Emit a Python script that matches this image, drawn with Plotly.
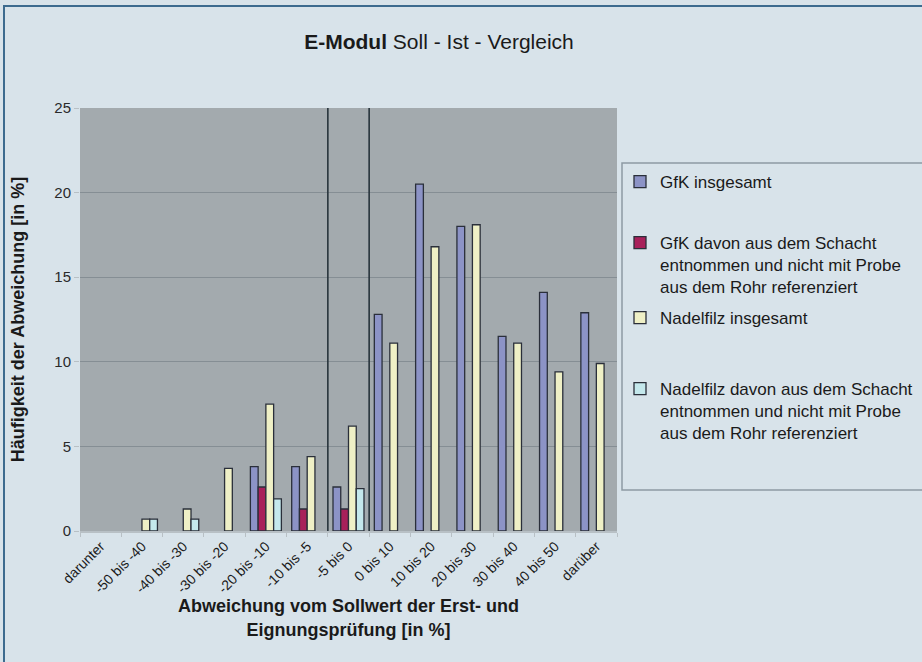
import plotly.graph_objects as go

categories = ["darunter", "-50 bis -40", "-40 bis -30", "-30 bis -20", "-20 bis -10",
              "-10 bis -5", "-5 bis 0", "0 bis 10", "10 bis 20", "20 bis 30",
              "30 bis 40", "40 bis 50", "darüber"]
gfk_gesamt = [None, None, None, None, 3.8, 3.8, 2.6, 12.8, 20.5, 18.0, 11.5, 14.1, 12.9]
gfk_schacht = [None, None, None, None, 2.6, 1.3, 1.3, None, None, None, None, None, None]
nadel_gesamt = [None, 0.7, 1.3, 3.7, 7.5, 4.4, 6.2, 11.1, 16.8, 18.1, 11.1, 9.4, 9.9]
nadel_schacht = [None, 0.7, 0.7, None, 1.9, None, 2.5, None, None, None, None, None, None]

series_names = [
    "GfK insgesamt",
    "GfK davon aus dem Schacht<br>entnommen und nicht mit Probe<br>aus dem Rohr referenziert",
    "Nadelfilz insgesamt",
    "Nadelfilz davon aus dem Schacht<br>entnommen und nicht mit Probe<br>aus dem Rohr referenziert",
]
series_values = [gfk_gesamt, gfk_schacht, nadel_gesamt, nadel_schacht]
series_colors = ["#8c93c6", "#a8205a", "#eff0c6", "#c4e8ec"]
legend_ids = ["legend", "legend2", "legend3", "legend4"]

W, H = 922, 662
L, R, T, B = 80, 305, 108, 131
PW, PH = W - L - R, H - T - B

def px(x):
    return (x - L) / PW

def py(y):
    return (H - B - y) / PH

FONT = "Liberation Sans, Arial, sans-serif"
PAPER = "#d8e3ea"

fig = go.Figure()
for name, vals, col, lg in zip(series_names, series_values, series_colors, legend_ids):
    fig.add_trace(go.Bar(
        x=categories, y=vals, name=name, legend=lg, showlegend=True,
        marker=dict(color=col, line=dict(color="#2a2f3a", width=1.3)),
    ))

legend_tops = [164, 225, 300, 371]
legend_common = dict(
    bgcolor="rgba(0,0,0,0)", borderwidth=0, valign="top",
    font=dict(family=FONT, size=17, color="#1a1a1a"),
    xanchor="left", yanchor="top", visible=True,
)
layout_legends = {}
for lg, top in zip(legend_ids, legend_tops):
    layout_legends[lg] = dict(x=px(620), y=py(top), **legend_common)

fig.update_layout(
    width=W, height=H,
    showlegend=True,
    margin=dict(l=L, r=R, t=T, b=B, autoexpand=False),
    paper_bgcolor=PAPER,
    plot_bgcolor="#a3aaae",
    font=dict(family=FONT, color="#1a1a1a"),
    barmode="group", bargap=0.25, bargroupgap=0,
    title=dict(
        text="<b>E-Modul</b> Soll - Ist - Vergleich",
        font=dict(family=FONT, size=21, color="#1a1a1a"),
        xref="container", yref="container", x=439 / W, y=1 - 42 / H,
        xanchor="center", yanchor="middle",
    ),
    xaxis=dict(
        type="category", tickangle=-45, tickson="boundaries",
        ticks="outside", ticklen=4, tickcolor="#b8c0c5",
        showline=True, linecolor="#b8c0c5", linewidth=1.5,
        tickfont=dict(family=FONT, size=14, color="#1a1a1a"),
        title=dict(text="<b>Abweichung vom Sollwert der Erst- und<br>Eignungsprüfung [in %]</b>",
                   font=dict(family=FONT, size=18, color="#1a1a1a"), standoff=0),
        showgrid=False, automargin=False,
    ),
    yaxis=dict(
        range=[0, 25], tickvals=[0, 5, 10, 15, 20, 25],
        ticks="outside", ticklen=5, tickcolor="#b8c0c5",
        showgrid=True, gridcolor="#858e94", gridwidth=1.2,
        zeroline=False, showline=False,
        tickfont=dict(family=FONT, size=15, color="#2a2a2a"),
        title=dict(text="<b>Häufigkeit der Abweichung [in %]</b>",
                   font=dict(family=FONT, size=18, color="#1a1a1a"), standoff=25),
        automargin=False,
    ),
    **layout_legends,
)

# reference lines separating the "-5 bis 0" class
for xv in [5.5, 6.5]:
    fig.add_shape(type="line", xref="x", yref="y", x0=xv, x1=xv, y0=-0.25, y1=25.3,
                  line=dict(color="#27343c", width=1.6), layer="above")

# legend frame
fig.add_shape(type="rect", xref="paper", yref="paper",
              x0=px(622), x1=px(930), y0=py(163), y1=py(490),
              line=dict(color="#8d9aa4", width=1.5), fillcolor="rgba(0,0,0,0)", layer="below")
# outer frame
fig.add_shape(type="rect", xref="paper", yref="paper",
              x0=px(4), x1=px(930), y0=py(6), y1=py(670),
              line=dict(color="#3d6b8f", width=2), fillcolor="rgba(0,0,0,0)", layer="below")

fig.write_html(
    "out.html",
    config={"displayModeBar": False},
    post_script="document.body.style.margin='0';document.body.style.background='%s';" % PAPER,
)
